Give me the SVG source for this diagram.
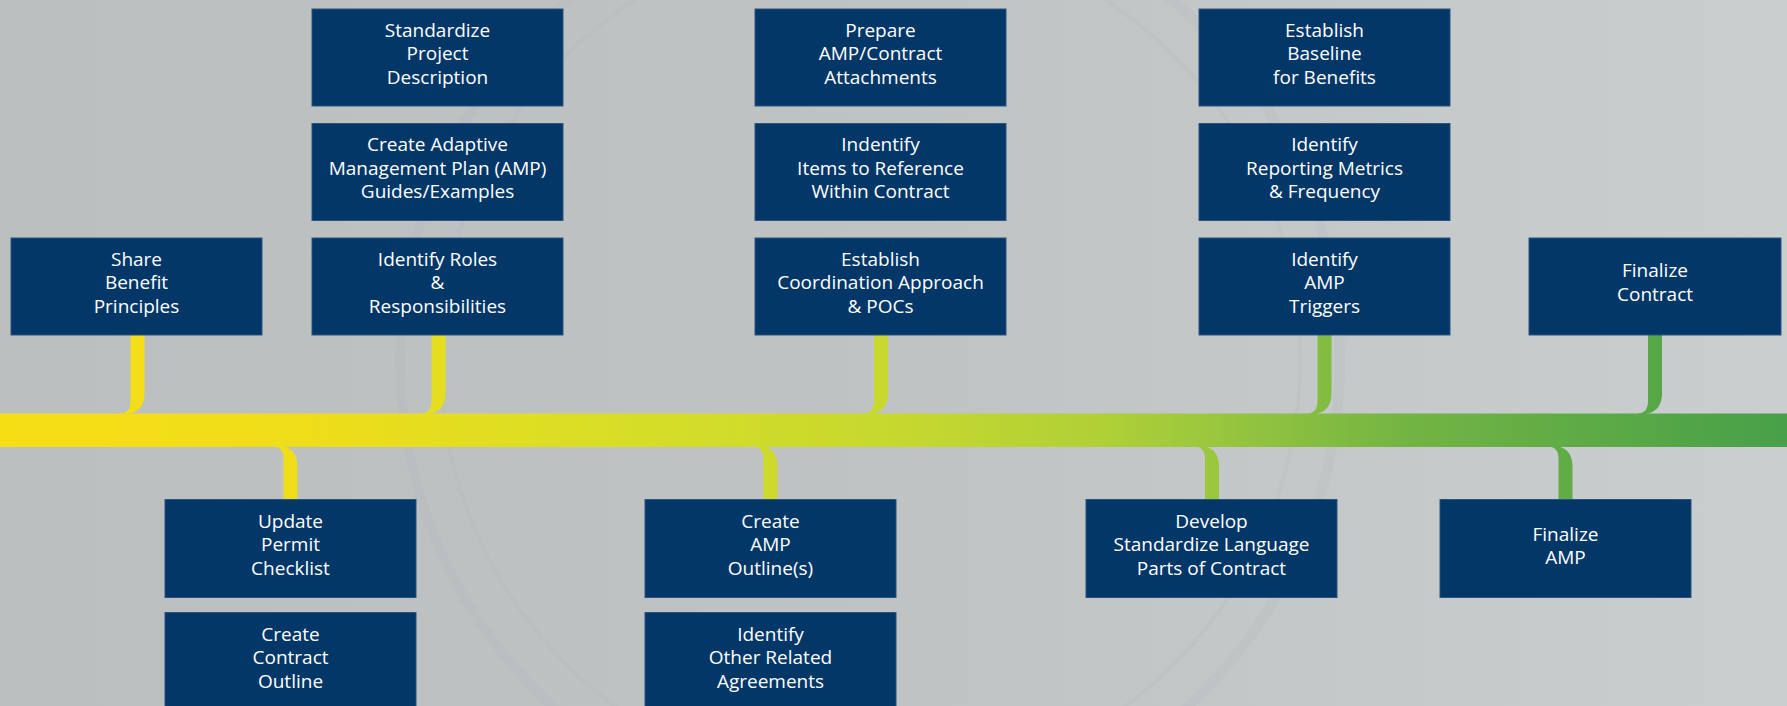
<svg xmlns="http://www.w3.org/2000/svg" width="1787" height="706" viewBox="0 0 1787 706">
<defs>
<linearGradient id="bg" x1="0" y1="0" x2="1787" y2="0" gradientUnits="userSpaceOnUse">
<stop offset="0" stop-color="#BBBFC0"/>
<stop offset="0.5" stop-color="#BFC3C4"/>
<stop offset="1" stop-color="#CACECF"/>
</linearGradient>
<linearGradient id="line" x1="0" y1="0" x2="1787" y2="0" gradientUnits="userSpaceOnUse">
<stop offset="0" stop-color="#F6DE15"/>
<stop offset="0.168" stop-color="#EFDD19"/>
<stop offset="0.336" stop-color="#D9DE26"/>
<stop offset="0.504" stop-color="#C6D82F"/>
<stop offset="0.616" stop-color="#B0D036"/>
<stop offset="0.672" stop-color="#9CC83D"/>
<stop offset="0.783" stop-color="#74B543"/>
<stop offset="0.895" stop-color="#5CAA46"/>
<stop offset="1" stop-color="#47A048"/>
</linearGradient>
<style>
.box{fill:#023768;stroke:#2a5480;stroke-width:1}
.lbl{font-family:"Open Sans","Noto Sans",sans-serif;font-size:19px;fill:#FFFFFF;text-anchor:middle}
.stem{fill:url(#line)}
.tex{fill:none;stroke:#B2B6B7;stroke-opacity:0.2}
</style>
</defs>
<rect x="0" y="0" width="1787" height="706" fill="url(#bg)"/>
<g id="texture">
<circle class="tex" cx="870" cy="360" r="470" stroke-width="10"/>
<circle class="tex" cx="870" cy="360" r="430" stroke-width="4"/>
</g>
<g id="connectors">
<path class="stem" d="M130.5,335 V401 Q130.5,413 120.5,413.5 V420 H129.5 V413.5 Q144.5,411 144.5,393 V335 Z"/>
<path class="stem" d="M431.5,335 V401 Q431.5,413 421.5,413.5 V420 H430.5 V413.5 Q445.5,411 445.5,393 V335 Z"/>
<path class="stem" d="M874,335 V401 Q874,413 864,413.5 V420 H873 V413.5 Q888,411 888,393 V335 Z"/>
<path class="stem" d="M1317.5,335 V401 Q1317.5,413 1307.5,413.5 V420 H1316.5 V413.5 Q1331.5,411 1331.5,393 V335 Z"/>
<path class="stem" d="M1648,335 V401 Q1648,413 1638,413.5 V420 H1647 V413.5 Q1662,411 1662,393 V335 Z"/>
<path class="stem" d="M273.5,446.5 Q283.5,447 283.5,459 V500 H297.5 V467 Q297.5,449 282.5,446.5 V440 H273.5 Z"/>
<path class="stem" d="M753.5,446.5 Q763.5,447 763.5,459 V500 H777.5 V467 Q777.5,449 762.5,446.5 V440 H753.5 Z"/>
<path class="stem" d="M1195,446.5 Q1205,447 1205,459 V500 H1219 V467 Q1219,449 1204,446.5 V440 H1195 Z"/>
<path class="stem" d="M1548.5,446.5 Q1558.5,447 1558.5,459 V500 H1572.5 V467 Q1572.5,449 1557.5,446.5 V440 H1548.5 Z"/>
<rect id="timeline" x="0" y="413.5" width="1787" height="33.5" fill="url(#line)"/>
</g>
<g id="n1"><rect class="box" x="11" y="238" width="251" height="97"/>
<text class="lbl" x="136.5" y="265.8">Share</text><text class="lbl" x="136.5" y="289.3">Benefit</text><text class="lbl" x="136.5" y="312.8">Principles</text></g>
<g id="n2"><rect class="box" x="312" y="9" width="251" height="97"/>
<text class="lbl" x="437.5" y="36.8">Standardize</text><text class="lbl" x="437.5" y="60.3">Project</text><text class="lbl" x="437.5" y="83.8">Description</text></g>
<g id="n3"><rect class="box" x="312" y="123.5" width="251" height="97"/>
<text class="lbl" x="437.5" y="151.3">Create Adaptive</text><text class="lbl" x="437.5" y="174.8">Management Plan (AMP)</text><text class="lbl" x="437.5" y="198.3">Guides/Examples</text></g>
<g id="n4"><rect class="box" x="312" y="238" width="251" height="97"/>
<text class="lbl" x="437.5" y="265.8">Identify Roles</text><text class="lbl" x="437.5" y="289.3">&amp;</text><text class="lbl" x="437.5" y="312.8">Responsibilities</text></g>
<g id="n5"><rect class="box" x="755" y="9" width="251" height="97"/>
<text class="lbl" x="880.5" y="36.8">Prepare</text><text class="lbl" x="880.5" y="60.3">AMP/Contract</text><text class="lbl" x="880.5" y="83.8">Attachments</text></g>
<g id="n6"><rect class="box" x="755" y="123.5" width="251" height="97"/>
<text class="lbl" x="880.5" y="151.3">Indentify</text><text class="lbl" x="880.5" y="174.8">Items to Reference</text><text class="lbl" x="880.5" y="198.3">Within Contract</text></g>
<g id="n7"><rect class="box" x="755" y="238" width="251" height="97"/>
<text class="lbl" x="880.5" y="265.8">Establish</text><text class="lbl" x="880.5" y="289.3">Coordination Approach</text><text class="lbl" x="880.5" y="312.8">&amp; POCs</text></g>
<g id="n8"><rect class="box" x="1199" y="9" width="251" height="97"/>
<text class="lbl" x="1324.5" y="36.8">Establish</text><text class="lbl" x="1324.5" y="60.3">Baseline</text><text class="lbl" x="1324.5" y="83.8">for Benefits</text></g>
<g id="n9"><rect class="box" x="1199" y="123.5" width="251" height="97"/>
<text class="lbl" x="1324.5" y="151.3">Identify</text><text class="lbl" x="1324.5" y="174.8">Reporting Metrics</text><text class="lbl" x="1324.5" y="198.3">&amp; Frequency</text></g>
<g id="n10"><rect class="box" x="1199" y="238" width="251" height="97"/>
<text class="lbl" x="1324.5" y="265.8">Identify</text><text class="lbl" x="1324.5" y="289.3">AMP</text><text class="lbl" x="1324.5" y="312.8">Triggers</text></g>
<g id="n11"><rect class="box" x="1529" y="238" width="252" height="97"/>
<text class="lbl" x="1655" y="277">Finalize</text><text class="lbl" x="1655" y="301">Contract</text></g>
<g id="n12"><rect class="box" x="165" y="499.5" width="251" height="98"/>
<text class="lbl" x="290.5" y="527.8">Update</text><text class="lbl" x="290.5" y="551.3">Permit</text><text class="lbl" x="290.5" y="574.8">Checklist</text></g>
<g id="n13"><rect class="box" x="165" y="612.5" width="251" height="98"/>
<text class="lbl" x="290.5" y="640.8">Create</text><text class="lbl" x="290.5" y="664.3">Contract</text><text class="lbl" x="290.5" y="687.8">Outline</text></g>
<g id="n14"><rect class="box" x="645" y="499.5" width="251" height="98"/>
<text class="lbl" x="770.5" y="527.8">Create</text><text class="lbl" x="770.5" y="551.3">AMP</text><text class="lbl" x="770.5" y="574.8">Outline(s)</text></g>
<g id="n15"><rect class="box" x="645" y="612.5" width="251" height="98"/>
<text class="lbl" x="770.5" y="640.8">Identify</text><text class="lbl" x="770.5" y="664.3">Other Related</text><text class="lbl" x="770.5" y="687.8">Agreements</text></g>
<g id="n16"><rect class="box" x="1086" y="499.5" width="251" height="98"/>
<text class="lbl" x="1211.5" y="527.8">Develop</text><text class="lbl" x="1211.5" y="551.3">Standardize Language</text><text class="lbl" x="1211.5" y="574.8">Parts of Contract</text></g>
<g id="n17"><rect class="box" x="1440" y="499.5" width="251" height="98"/>
<text class="lbl" x="1565.5" y="541">Finalize</text><text class="lbl" x="1565.5" y="564">AMP</text></g>
</svg>
